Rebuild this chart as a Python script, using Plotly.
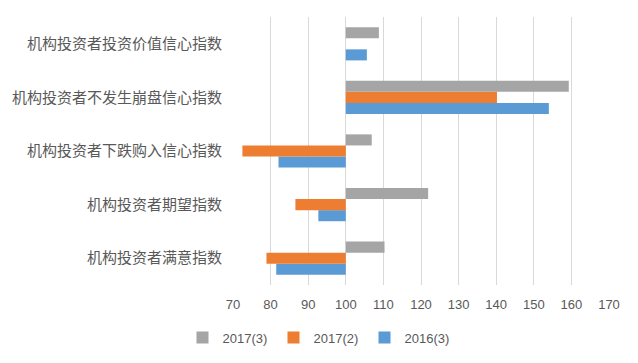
import plotly.graph_objects as go

categories = ["机构投资者满意指数", "机构投资者期望指数", "机构投资者下跌购入信心指数",
              "机构投资者不发生崩盘信心指数", "机构投资者投资价值信心指数"]
s2016_3 = [81.5, 92.7, 82.1, 154.0, 105.6]
s2017_2 = [78.9, 86.6, 72.5, 140.2, None]
s2017_3 = [110.3, 121.9, 106.9, 159.3, 108.8]
base_value = 100
tick_vals = [70, 80, 90, 100, 110, 120, 130, 140, 150, 160, 170]

series = [("2016(3)", s2016_3, "#5B9BD5"),
          ("2017(2)", s2017_2, "#ED7D31"),
          ("2017(3)", s2017_3, "#A5A5A5")]

fig = go.Figure()
for name, vals, color in series:
    fig.add_trace(go.Bar(
        y=categories,
        x=[None if v is None else v - base_value for v in vals],
        base=base_value,
        orientation="h",
        name=name,
        marker=dict(color=color, line=dict(width=0)),
    ))

fig.update_layout(
    width=638, height=363,
    barmode="group", bargap=0.38, bargroupgap=0,
    margin=dict(l=233, r=29, t=17, b=78, autoexpand=False),
    paper_bgcolor="white", plot_bgcolor="white",
    font=dict(family="Noto Sans CJK SC, Liberation Sans, Arial", color="#595959", size=13),
    showlegend=True,
    legend=dict(orientation="h", traceorder="reversed",
                xref="container", yref="container",
                x=0.5, xanchor="center", y=0.07, yanchor="middle",
                font=dict(family="Liberation Sans, Arial", size=13, color="#595959"),
                itemwidth=30, entrywidth=46, entrywidthmode="pixels"),
    xaxis=dict(range=[70, 170], tickvals=tick_vals, showgrid=True, automargin=False,
               gridcolor="#D9D9D9", gridwidth=1, zeroline=False, showline=False,
               ticks="", ticklabelstandoff=10,
               tickfont=dict(family="Liberation Sans, Arial", size=13, color="#595959")),
    yaxis=dict(showgrid=False, zeroline=False, showline=False, ticks="", automargin=False,
               ticklabelstandoff=10,
               tickfont=dict(family="Noto Sans CJK SC", size=15, color="#595959")),
)

fig.write_html("out.html", config={"displayModeBar": False},
               post_script="document.body.style.margin='0';")
